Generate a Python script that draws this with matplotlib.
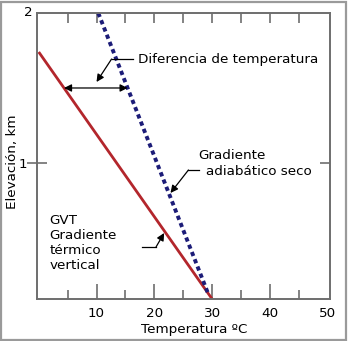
import numpy as np
import matplotlib
matplotlib.use("Agg")
from matplotlib import pyplot as plt
from matplotlib.patches import Rectangle

# temperatura (C) y elevación (km) de las dos rectas
gvt_temp = [0, 30]
gvt_elev = [1.74, 0.093]
adiab_temp = [10.3, 29.3]
adiab_elev = [2.0, 0.13]

x_ticks = [10, 20, 30, 40, 50]
x_minor = [5, 15, 25, 35, 45]
top_ticks = [5, 10, 15, 20, 25, 30, 35, 40, 45]
y_ticks = [1]

dif_elev = 1.5  # altura de la flecha doble

plt.rcParams['font.family'] = ['DejaVu Sans']
fs = 9.7
spine_c = '#6e6e6e'

fig = plt.figure(figsize=(3.5, 3.41), dpi=100)
fig.patches.append(Rectangle((1 / 350, 1 / 341), 345 / 350, 338 / 341,
                             transform=fig.transFigure, fill=False,
                             edgecolor='#9a9a9a', linewidth=1.6))
ax = fig.add_axes([37 / 350, 1 - 299 / 341, 293 / 350, 286 / 341])

ax.plot(gvt_temp, gvt_elev, color='#b3262c', linewidth=2.0, solid_capstyle='butt')
ax.plot(adiab_temp, adiab_elev, color='#1c1c78', linewidth=2.8,
        linestyle=(0, (1.1, 0.9)), dash_capstyle='butt')

ax.set_xlim(-0.3, 50.4)
ax.set_ylim(0.093, 2.0)

for s in ax.spines.values():
    s.set_color(spine_c)
    s.set_linewidth(1.4)

ax.set_xticks(x_ticks)
ax.set_xticks(x_minor, minor=True)
ax.tick_params(axis='x', which='major', direction='in', length=10.5, width=1.2,
               color=spine_c, labelsize=fs, pad=6)
ax.tick_params(axis='x', which='minor', direction='in', length=6.5, width=1.2,
               color=spine_c)
ax.xaxis.get_major_ticks()[-1].tick1line.set_visible(False)
ax.set_yticks(y_ticks)
ax.tick_params(axis='y', direction='inout', length=14, width=1.2,
               color=spine_c, labelsize=fs, pad=0.5)
ax.annotate('2', xy=(0, 2.0), xycoords=('axes fraction', 'data'),
            xytext=(-3, 0), textcoords='offset points', ha='right', va='center',
            fontsize=fs)

top = ax.secondary_xaxis('top')
top.set_xticks(top_ticks)
top.tick_params(direction='in', length=7.5, width=1.2, color=spine_c, labeltop=False)
top.spines['top'].set_visible(False)
right = ax.secondary_yaxis('right')
right.set_yticks(y_ticks)
right.tick_params(direction='in', length=7.5, width=1.2, color=spine_c, labelright=False)
right.spines['right'].set_visible(False)

ax.set_xlabel('Temperatura ºC', fontsize=fs, va='center')
ax.xaxis.set_label_coords((194 - 37) / 293, -(330 - 299) / 286)
ax.set_ylabel('Elevación, km', fontsize=fs, va='center', ha='center')
ax.yaxis.set_label_coords(-(37 - 13) / 293, (299 - 162) / 286)

# flecha doble entre las dos rectas
x_red = np.interp(dif_elev, gvt_elev[::-1], gvt_temp[::-1])
x_blue = np.interp(dif_elev, adiab_elev[::-1], adiab_temp[::-1])
ax.annotate('', xy=(x_red, dif_elev), xytext=(x_blue, dif_elev),
            arrowprops=dict(arrowstyle='<|-|>', color='black', lw=0.9,
                            mutation_scale=11, shrinkA=0, shrinkB=0))

arrow_kw = dict(arrowstyle='-|>', color='black', lw=0.9, mutation_scale=11,
                shrinkA=0, shrinkB=0)

# Diferencia de temperatura
ax.text(17.1, 1.693, 'Diferencia de temperatura', fontsize=fs, va='center')
ax.plot([16.3, 12.6], [1.693, 1.693], color='black', lw=0.9)
ax.annotate('', xy=(10.0, 1.54), xytext=(12.6, 1.693), arrowprops=arrow_kw)

# Gradiente adiabático seco
ax.text(27.6, 1.047, 'Gradiente', fontsize=fs, va='center')
ax.text(29.0, 0.94, 'adiabático seco', fontsize=fs, va='center')
ax.plot([27.8, 25.9], [0.953, 0.953], color='black', lw=0.9)
ax.annotate('', xy=(22.8, 0.80), xytext=(25.9, 0.953), arrowprops=arrow_kw)

# GVT
ax.text(1.9, 0.467, 'GVT\nGradiente\ntérmico\nvertical', fontsize=fs,
        va='center', linespacing=1.2)
ax.plot([17.9, 20.3], [0.44, 0.44], color='black', lw=0.9)
ax.annotate('', xy=(21.7, 0.533), xytext=(20.3, 0.44), arrowprops=arrow_kw)

fig.savefig('out.png', dpi=100)
